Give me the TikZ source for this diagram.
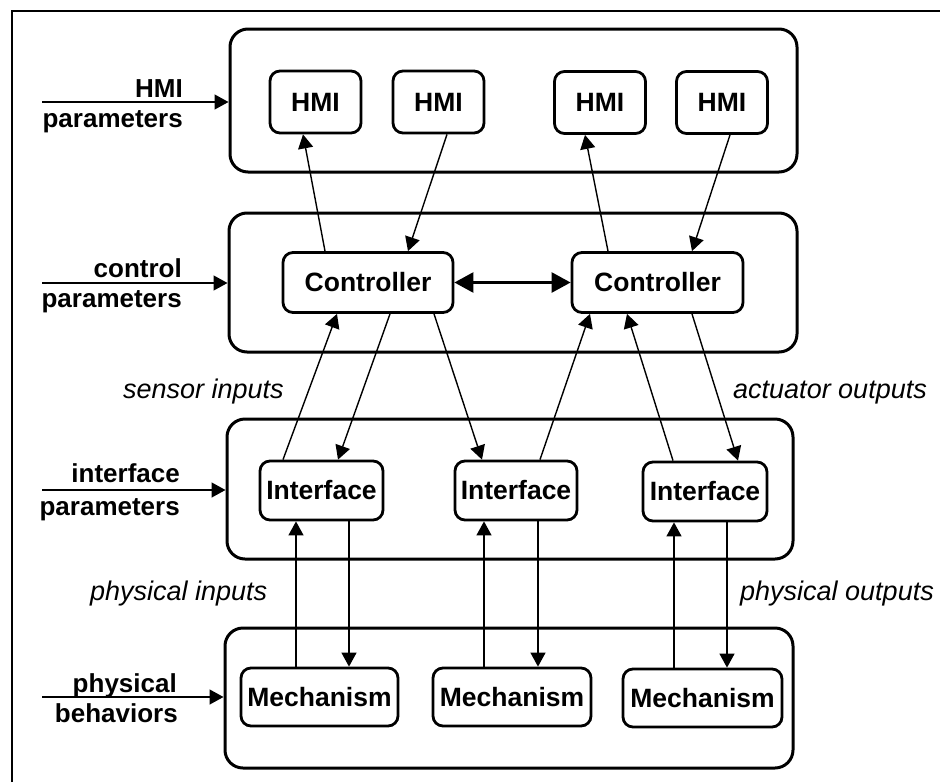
\documentclass[tikz,border=0pt]{standalone}
\usepackage{fontspec}
\setmainfont{Liberation Sans}
\usetikzlibrary{arrows.meta}
\begin{document}
\begin{tikzpicture}[x=1pt,y=-1pt,
  layer/.style={draw, line width=3pt, rounded corners=18pt, inner sep=0pt},
  unit/.style={draw, line width=2.8pt, rounded corners=10pt, inner sep=0pt, font=\fontsize{26.5}{28}\selectfont\bfseries},
  arr/.style={line width=1.4pt, -{Triangle[length=14pt,width=15pt]}},
  dblarr/.style={line width=2.6pt, {Triangle[length=19pt,width=20pt]}-{Triangle[length=19pt,width=20pt]}},
  lbl/.style={font=\fontsize{26}{28}\selectfont\bfseries, inner sep=0pt, anchor=base east},
  ital/.style={font=\fontsize{27}{28}\selectfont\itshape, inner sep=0pt, anchor=base west}]
\useasboundingbox (0,0) rectangle (940,782);
\draw[line width=1.5pt] (12,782) -- (12,11) -- (940,11);

% layers
\node[layer, minimum width=567pt, minimum height=143pt] (L1) at (513.5,100.5) {};
\node[layer, minimum width=568pt, minimum height=139pt] (L2) at (513,282.5) {};
\node[layer, minimum width=566pt, minimum height=140pt] (L3) at (510,489) {};
\node[layer, minimum width=568pt, minimum height=140pt] (L4) at (509,698) {};

% HMI
\node[unit, minimum width=91pt, minimum height=62pt] (H1) at (315.5,102) {HMI};
\node[unit, minimum width=91pt, minimum height=62pt] (H2) at (438.5,102) {HMI};
\node[unit, minimum width=91pt, minimum height=62pt] (H3) at (600,102.5) {HMI};
\node[unit, minimum width=91pt, minimum height=62pt] (H4) at (722,102.5) {HMI};

% Controllers
\node[unit, minimum width=170pt, minimum height=60pt] (C1) at (368,282.5) {Controller};
\node[unit, minimum width=171pt, minimum height=60pt] (C2) at (657.5,282.5) {Controller};

% Interfaces
\node[unit, minimum width=123pt, minimum height=59pt] (I1) at (321.5,490.5) {Interface};
\node[unit, minimum width=122pt, minimum height=59pt] (I2) at (516,490.5) {Interface};
\node[unit, minimum width=124pt, minimum height=59pt] (I3) at (705,491.5) {Interface};

% Mechanisms
\node[unit, minimum width=157pt, minimum height=58pt] (M1) at (319.5,697) {Mechanism};
\node[unit, minimum width=158pt, minimum height=58pt] (M2) at (512,697) {Mechanism};
\node[unit, minimum width=159pt, minimum height=58pt] (M3) at (702.5,698) {Mechanism};

% HMI <-> controller
\draw[arr] (C1.north -| 325,0) -- (H1.south -| 303,0);
\draw[arr] (H2.south -| 447,0) -- (C1.north -| 408,0);
\draw[arr] (C2.north -| 608,0) -- (H3.south -| 585,0);
\draw[arr] (H4.south -| 730,0) -- (C2.north -| 692,0);

% controller <-> controller
\draw[dblarr] (C1) -- (C2);

% controller <-> interface
\draw[arr] (I1.north -| 283,0) -- (C1.south -| 337,0);
\draw[arr] (C1.south -| 390,0) -- (I1.north -| 338,0);
\draw[arr] (C1.south -| 434,0) -- (I2.north -| 482,0);
\draw[arr] (I2.north -| 540,0) -- (C2.south -| 590,0);
\draw[arr] (I3.north -| 673,0) -- (C2.south -| 627,0);
\draw[arr] (C2.south -| 692,0) -- (I3.north -| 738,0);

% interface <-> mechanism
\draw[arr] (M1.north -| 296,0) -- (I1.south -| 296,0);
\draw[arr] (I1.south -| 349,0) -- (M1.north -| 349,0);
\draw[arr] (M2.north -| 484,0) -- (I2.south -| 484,0);
\draw[arr] (I2.south -| 538,0) -- (M2.north -| 538,0);
\draw[arr] (M3.north -| 674,0) -- (I3.south -| 674,0);
\draw[arr] (I3.south -| 727,0) -- (M3.north -| 727,0);

% left inputs
\coordinate (in1) at (42,102);
\coordinate (in2) at (42,283);
\coordinate (in3) at (42,490);
\coordinate (in4) at (42,697);
\draw[arr] (in1) -- (in1 -| L1.west);
\draw[arr] (in2) -- (in2 -| L2.west);
\draw[arr] (in3) -- (in3 -| L3.west);
\draw[arr] (in4) -- (in4 -| L4.west);

\node[lbl] (t1a) at (183,97) {HMI};
\node[lbl] (t1b) at (183,127) {parameters};
\node[lbl] (t2a) at (182,277) {control};
\node[lbl] (t2b) at (182,307) {parameters};
\node[lbl] (t3a) at (180,482) {interface};
\node[lbl] (t3b) at (180,515) {parameters};
\node[lbl] (t4a) at (177,692) {physical};
\node[lbl] (t4b) at (178,722) {behaviors};

% italic labels
\node[ital] (s1) at (123,398) {sensor inputs};
\node[ital] (s2) at (733,398) {actuator outputs};
\node[ital] (s3) at (90,600) {physical inputs};
\node[ital] (s4) at (740,600) {physical outputs};
\end{tikzpicture}
\end{document}
